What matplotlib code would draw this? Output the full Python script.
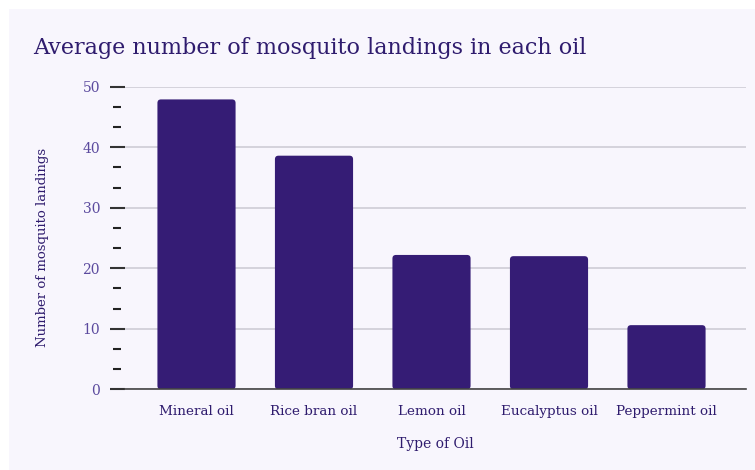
import numpy as np
import matplotlib
matplotlib.use("Agg")
import matplotlib.pyplot as plt
from matplotlib.patches import Rectangle, FancyBboxPatch
from matplotlib.transforms import blended_transform_factory

oils = ["Mineral oil", "Rice bran oil", "Lemon oil", "Eucalyptus oil", "Peppermint oil"]
landings = [47.9, 38.6, 22.2, 22.0, 10.6]
major_ticks = [0, 10, 20, 30, 40, 50]

BG = "#f8f6fd"
BAR = "#351c75"
TXT = "#2f1c6e"
TICKTXT = "#5b4a9e"
FONT = ["DejaVu Serif"]

plt.rcParams["font.family"] = FONT

fig = plt.figure(figsize=(7.55, 4.70), dpi=100)
fig.patch.set_facecolor("white")
fig.patches.append(Rectangle((9 / 755, 0), 1, (470 - 9) / 470, transform=fig.transFigure,
                             facecolor=BG, edgecolor="none", zorder=-10))

ax = fig.add_axes([125 / 755, (470 - 389.3) / 470, (745.7 - 125) / 755, (389.3 - 86.7) / 470])
ax.patch.set_alpha(0)

x = np.arange(len(oils))
w = 0.665
# data aspect: px per x-unit / px per y-unit
asp = (302.6 / 50) / 117.5
for xi, v in zip(x, landings):
    ax.add_patch(FancyBboxPatch((xi - w / 2, 0), w, v,
                                boxstyle="round,pad=0,rounding_size=0.03",
                                mutation_aspect=1 / asp,
                                facecolor=BAR, edgecolor="none", zorder=3))

ax.set_xlim(-0.6085, 4.674)
ax.set_ylim(0, 50)
ax.set_yticks(major_ticks)
ax.set_yticklabels([str(t) for t in major_ticks], color=TICKTXT, fontsize=10)
ax.set_xticks(x)
ax.set_xticklabels(oils, color=TXT, fontsize=9.7)

ax.grid(axis="y", color="#cfcdd6", linewidth=1.2, zorder=1)
ax.tick_params(axis="y", length=11, width=1.5, color="#333333", pad=7)
ax.tick_params(axis="x", length=0, pad=11)
for s in ["left", "right", "top"]:
    ax.spines[s].set_visible(False)
ax.spines["bottom"].set_color("#444444")
ax.spines["bottom"].set_linewidth(1.2)
ax.spines["bottom"].set_zorder(4)

# minor dashes between the major ticks
minor = [t + d for t in major_ticks[:-1] for d in (10 / 3, 20 / 3)]
tr = blended_transform_factory(ax.transAxes, ax.transData)
ax.hlines(minor, -12 / 620.7, -4 / 620.7, transform=tr, color="#222222",
          linewidth=1.5, clip_on=False)

ax.set_ylabel("Number of mosquito landings", color=TXT, fontsize=9.5)
ax.yaxis.set_label_coords(-76 / 620.7, 0.47)
ax.set_xlabel("Type of Oil", color=TXT, fontsize=10, labelpad=14)

fig.text(33 / 755, (470 - 48) / 470, "Average number of mosquito landings in each oil",
         color=TXT, fontsize=16, va="center", ha="left")

fig.savefig("out.png", dpi=100, facecolor=fig.get_facecolor())
